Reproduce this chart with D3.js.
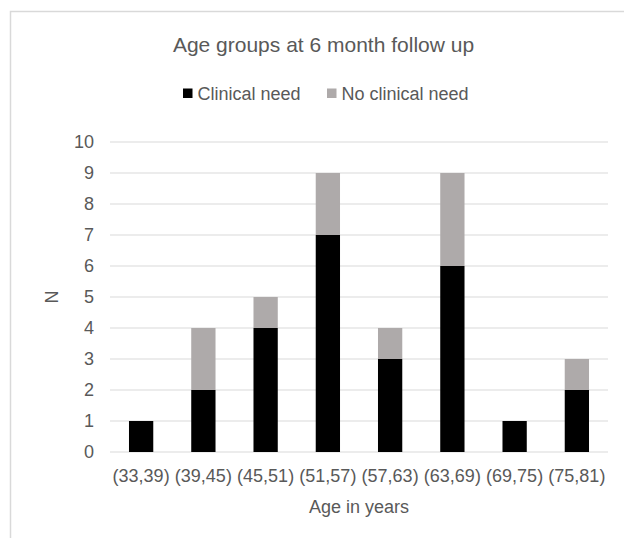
<!DOCTYPE html>
<html><head><meta charset="utf-8">
<script src="https://cdn.jsdelivr.net/npm/d3@7"></script>
<style>body{margin:0;background:#fff}svg{display:block}text{font-family:"Liberation Sans",Arial,sans-serif;fill:#595959}</style>
</head><body>
<script>
const categories = ["(33,39)","(39,45)","(45,51)","(51,57)","(57,63)","(63,69)","(69,75)","(75,81)"];
const clinicalNeed = [1,2,4,7,3,6,1,2];
const noClinicalNeed = [0,2,1,2,1,3,0,1];
const seriesNames = ["Clinical need","No clinical need"];
const seriesColors = ["#000000","#AEAAAA"];
const yTicks = [0,1,2,3,4,5,6,7,8,9,10];
const title = "Age groups at 6 month follow up";
const xTitle = "Age in years";
const yTitle = "N";

const W = 624, H = 538;
const svg = d3.select("body").append("svg").attr("width", W).attr("height", H);

// chart border
svg.append("rect").attr("x",10.5).attr("y",11.5).attr("width",W).attr("height",H)
  .attr("fill","#fff").attr("stroke","#d9d9d9").attr("stroke-width",1.5);

const x = d3.scaleBand().domain(categories).range([110,608]).paddingInner(0.61).paddingOuter(0.305);
const y = d3.scaleLinear().domain([0,10]).range([452,142]);

// gridlines
svg.append("g").selectAll("line").data(yTicks).join("line")
  .attr("x1",110).attr("x2",608).attr("y1",d=>y(d)).attr("y2",d=>y(d))
  .attr("stroke","#d9d9d9").attr("stroke-width",1);

// stacked bars
const rows = categories.map((c,i)=>({cat:c, "Clinical need":clinicalNeed[i], "No clinical need":noClinicalNeed[i]}));
const stack = d3.stack().keys(seriesNames)(rows);
svg.append("g").selectAll("g").data(stack).join("g")
  .attr("fill",(d,i)=>seriesColors[i])
  .selectAll("rect").data(d=>d.filter(p=>p[1]-p[0]>0)).join("rect")
  .attr("x",d=>x(d.data.cat)).attr("width",x.bandwidth())
  .attr("y",d=>y(d[1])).attr("height",d=>y(d[0])-y(d[1]));

// y tick labels
svg.append("g").selectAll("text").data(yTicks).join("text")
  .attr("x",94).attr("y",d=>y(d)).attr("dy","0.35em").attr("text-anchor","end")
  .attr("font-size",18).text(d=>d);

// x tick labels
svg.append("g").selectAll("text").data(categories).join("text")
  .attr("x",d=>x(d)+x.bandwidth()/2).attr("y",482).attr("text-anchor","middle")
  .attr("font-size",18).text(d=>d);

// axis titles
svg.append("text").attr("x",359).attr("y",513).attr("text-anchor","middle").attr("font-size",18).text(xTitle);
svg.append("text").attr("transform","translate(58,297) rotate(-90)").attr("text-anchor","middle")
  .attr("font-size",18).text(yTitle);

// title
svg.append("text").attr("x",323.5).attr("y",52).attr("text-anchor","middle").attr("font-size",21).text(title);

// legend
const legendX = [183, 327];
const lg = svg.append("g").selectAll("g").data(seriesNames).join("g")
  .attr("transform",(d,i)=>`translate(${legendX[i]},0)`);
lg.append("rect").attr("x",0).attr("y",88.5).attr("width",9.5).attr("height",9.5).attr("fill",(d,i)=>seriesColors[i]);
lg.append("text").attr("x",14.5).attr("y",100).attr("font-size",18).text(d=>d);
</script>
</body></html>
